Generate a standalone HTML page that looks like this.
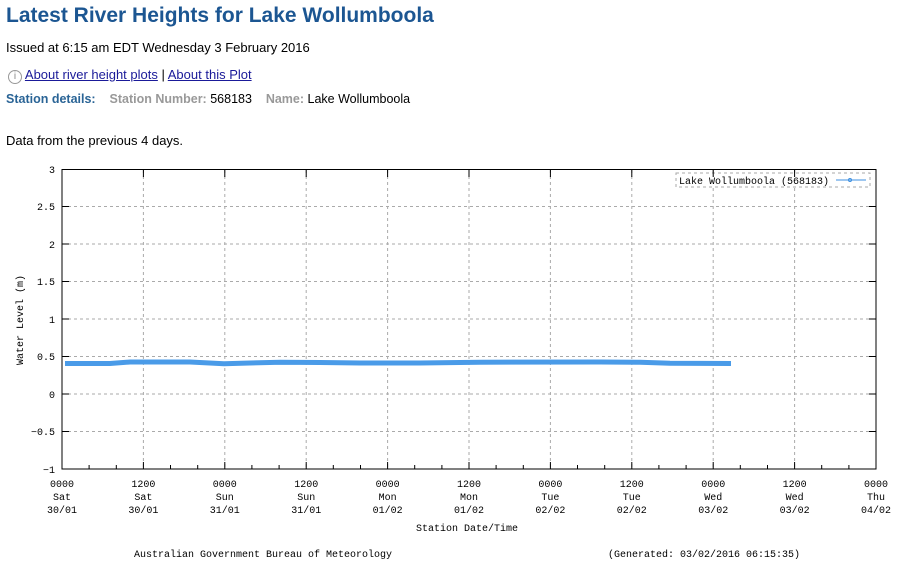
<!DOCTYPE html>
<html><head><meta charset="utf-8"><style>
body{margin:0;width:900px;height:569px;background:#fff;font-family:"Liberation Sans",Arial,sans-serif;position:relative;overflow:hidden}
.t{position:absolute;white-space:nowrap}
h1{position:absolute;left:6px;top:4px;margin:0;font-size:21px;font-weight:bold;color:#1c5692}
a{color:#1a1a99;text-decoration:underline}
svg{position:absolute;left:0;top:0}
svg text{font-family:"Liberation Mono",monospace;font-size:10px;fill:#000}
</style></head><body>
<h1>Latest River Heights for Lake Wollumboola</h1>
<div class="t" style="left:6px;top:40px;font-size:13px">Issued at 6:15 am EDT Wednesday 3 February 2016</div>
<div class="t" style="left:8px;top:67px;font-size:13px"><span style="display:inline-block;width:12px;height:12px;border:1px solid #999;border-radius:50%;font-size:10px;line-height:12px;text-align:center;color:#888;vertical-align:0px">i</span> <a>About river height plots</a> | <a>About this Plot</a></div>
<div class="t" style="left:6px;top:92px;font-size:12.5px"><b style="color:#2a6496">Station details:</b>&nbsp;&nbsp;&nbsp;&nbsp;<b style="color:#999">Station Number:</b> 568183&nbsp;&nbsp;&nbsp;&nbsp;<b style="color:#999">Name:</b> Lake Wollumboola</div>
<div class="t" style="left:6px;top:133px;font-size:13px">Data from the previous 4 days.</div>
<svg width="900" height="569">
<g stroke="#aaa" stroke-width="1" stroke-dasharray="3,3" fill="none">
<path d="M143.4 170V469M224.8 170V469M306.2 170V469M387.6 170V469M469 170V469M550.4 170V469M631.8 170V469M713.2 170V469M794.6 170V469"/>
<path d="M62 206.5H876M62 244H876M62 281.5H876M62 319H876M62 356.5H876M62 394H876M62 431.5H876"/>
</g>
<rect x="676" y="173" width="194" height="14" fill="#fff" stroke="#aaa" stroke-dasharray="3,3"/>
<text x="679" y="184">Lake Wollumboola (568183)</text>
<path d="M836 180H866" stroke="#3d8fe0" stroke-width="1"/><circle cx="850" cy="180" r="1.5" fill="none" stroke="#3d8fe0"/>
<polyline fill="none" stroke="#4a9be8" stroke-width="5" points="65,363.5 110,363.5 130,362 190,362 224,363.8 250,363 280,362.3 320,362.5 360,363 420,363 480,362.2 600,362 640,362.3 670,363.2 731,363.5"/>
<g stroke="#000" stroke-width="1" fill="none">
<rect x="62" y="169.5" width="814" height="299.5"/>
<path d="M62 469v-7M143.4 469v-7M224.8 469v-7M306.2 469v-7M387.6 469v-7M469 469v-7M550.4 469v-7M631.8 469v-7M713.2 469v-7M794.6 469v-7M62 170v7M143.4 170v7M224.8 170v7M306.2 170v7M387.6 170v7M469 170v7M550.4 170v7M631.8 170v7M713.2 170v7M794.6 170v7"/>
<path d="M89.1 469v-4M116.3 469v-4M170.5 469v-4M197.7 469v-4M251.9 469v-4M279.1 469v-4M333.3 469v-4M360.5 469v-4M414.7 469v-4M441.9 469v-4M496.1 469v-4M523.3 469v-4M577.5 469v-4M604.7 469v-4M658.9 469v-4M686.1 469v-4M740.3 469v-4M767.5 469v-4M821.7 469v-4M848.9 469v-4"/>
<path d="M62 206.5h7M62 244h7M62 281.5h7M62 319h7M62 356.5h7M62 394h7M62 431.5h7M876 206.5h-7M876 244h-7M876 281.5h-7M876 319h-7M876 356.5h-7M876 394h-7M876 431.5h-7"/>
</g>
<g text-anchor="end" style="font-size:11px">
<text x="55" y="173">3</text><text x="55" y="210">2.5</text><text x="55" y="248">2</text><text x="55" y="285">1.5</text><text x="55" y="323">1</text><text x="55" y="360">0.5</text><text x="55" y="398">0</text><text x="55" y="435">−0.5</text><text x="55" y="473">−1</text>
</g>
<text transform="translate(23,320) rotate(-90)" text-anchor="middle">Water Level (m)</text>
<g text-anchor="middle" style="font-size:11px">
<text x="62" y="487">0000</text><text x="62" y="500">Sat</text><text x="62" y="513">30/01</text>
<text x="143.4" y="487">1200</text><text x="143.4" y="500">Sat</text><text x="143.4" y="513">30/01</text>
<text x="224.8" y="487">0000</text><text x="224.8" y="500">Sun</text><text x="224.8" y="513">31/01</text>
<text x="306.2" y="487">1200</text><text x="306.2" y="500">Sun</text><text x="306.2" y="513">31/01</text>
<text x="387.6" y="487">0000</text><text x="387.6" y="500">Mon</text><text x="387.6" y="513">01/02</text>
<text x="469" y="487">1200</text><text x="469" y="500">Mon</text><text x="469" y="513">01/02</text>
<text x="550.4" y="487">0000</text><text x="550.4" y="500">Tue</text><text x="550.4" y="513">02/02</text>
<text x="631.8" y="487">1200</text><text x="631.8" y="500">Tue</text><text x="631.8" y="513">02/02</text>
<text x="713.2" y="487">0000</text><text x="713.2" y="500">Wed</text><text x="713.2" y="513">03/02</text>
<text x="794.6" y="487">1200</text><text x="794.6" y="500">Wed</text><text x="794.6" y="513">03/02</text>
<text x="876" y="487">0000</text><text x="876" y="500">Thu</text><text x="876" y="513">04/02</text>
</g>
<text x="467" y="531" text-anchor="middle">Station Date/Time</text>
<text x="134" y="557">Australian Government Bureau of Meteorology</text>
<text x="608" y="557">(Generated: 03/02/2016 06:15:35)</text>
</svg>
</body></html>
